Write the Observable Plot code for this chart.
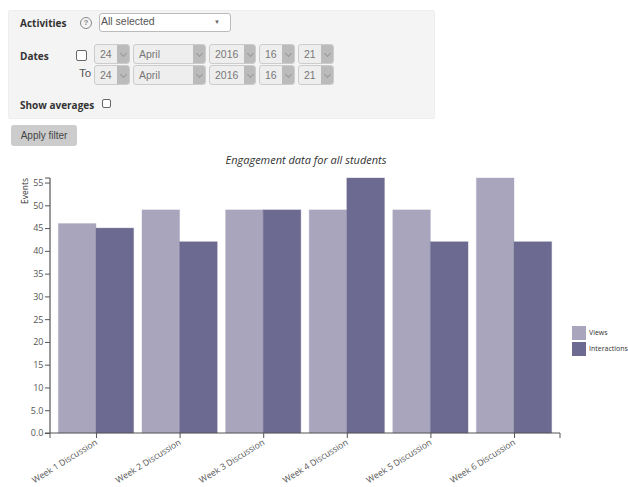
<!DOCTYPE html>
<html><head><meta charset="utf-8">
<script src="https://cdn.jsdelivr.net/npm/d3@7"></script>
<script src="https://cdn.jsdelivr.net/npm/@observablehq/plot@0.6"></script>
<style>
html,body{margin:0;padding:0;background:#fff;width:628px;height:487px;overflow:hidden;position:relative;font-family:"Liberation Sans",sans-serif;color:#555}
.a{position:absolute;box-sizing:border-box}
.lab{font:bold 10px "Open Sans",sans-serif;color:#333;line-height:14px}
.chk{border:1px solid #666;background:#fff;border-radius:2px;width:11px;height:11px}
.sel{background:#eee;border:1px solid #ccc;border-radius:3px;height:20px;font-size:10.5px;line-height:18px;color:#777;padding-left:5px}
.sel i{position:absolute;right:0;top:0;bottom:0;background:#bbb;border-radius:0 2px 2px 0}
.sel i::after{content:"";position:absolute;left:3.5px;top:6px;width:4px;height:4px;border-right:1px solid #999;border-bottom:1px solid #999;transform:rotate(45deg)}
#chart{position:absolute;left:0;top:150px}
#chart text{fill:#555}
.leg{position:absolute;font:7px "Open Sans",sans-serif;color:#333;line-height:14px}
</style></head><body>
<div class="a" style="left:8px;top:10px;width:427px;height:109px;background:#f4f4f4;border:1px solid #eee;border-radius:2px"></div>
<div class="a lab" style="left:20px;top:16px">Activities</div>
<div class="a" style="left:80px;top:17px;width:12px;height:12px;border:1px solid #888;border-radius:50%;font:bold 8px/10px 'Liberation Sans';text-align:center;color:#888">?</div>
<div class="a" style="left:99px;top:13px;width:132px;height:19px;background:#fff;border:1px solid #bbb;border-radius:3px;font-size:10.5px;line-height:14px;padding-left:1px;color:#555">All selected<span class="a" style="right:10px;top:1px;font-size:6px;color:#666">▼</span></div>
<div class="a lab" style="left:20px;top:49px">Dates</div>
<div class="a chk" style="left:76px;top:50px"></div>
<div class="a" style="left:79px;top:66px;font-size:11.5px;line-height:14px;color:#555">To</div>
<div id="rows"></div>
<div class="a lab" style="left:20px;top:98px">Show averages</div>
<div class="a chk" style="left:102px;top:99px;width:9px;height:9px"></div>
<div class="a" style="left:11px;top:125px;width:66px;height:21px;background:#ccc;border-radius:3px;font-size:10px;line-height:21px;text-align:center;color:#444">Apply filter</div>
<div class="a" style="left:0;width:612px;top:153px;text-align:center;font:italic 11px/14px 'Open Sans',sans-serif;color:#333">Engagement data for all students</div>
<div class="a" style="left:25px;top:177px;font:8.5px/10px 'Open Sans',sans-serif;color:#333;transform-origin:0 0;transform:translate(-5px,27px) rotate(-90deg)">Events</div>
<div id="chart"></div>
<div id="legend"></div>
<script>
const weeks = ["Week 1 Discussion","Week 2 Discussion","Week 3 Discussion","Week 4 Discussion","Week 5 Discussion","Week 6 Discussion"];
const seriesNames = ["Views","Interactions"];
const views = [46,49,49,49,49,56];
const interactions = [45,42,49,56,42,42];
const seriesColors = ["#a8a5bd","#6c6a90"];
const yTicks = [0,5,10,15,20,25,30,35,40,45,50,55];
const yTickLabels = ["0.0","5.0","10","15","20","25","30","35","40","45","50","55"];
const dateFields = ["24","April","2016","16","21"];

const rows = [];
weeks.forEach((w,i)=>{rows.push({week:w,series:seriesNames[0],value:views[i]});rows.push({week:w,series:seriesNames[1],value:interactions[i]});});

// date widgets
const fieldBoxes=[[94,36,12],[133,73,12],[209,47,11],[259,36,12],[298,36,12]];
const rowsEl=document.getElementById("rows");
[44,65].forEach(top=>{
  dateFields.forEach((t,i)=>{
    const [l,w,a]=fieldBoxes[i];
    const d=document.createElement("div");
    d.className="a sel";
    d.style.cssText=`left:${l}px;top:${top}px;width:${w}px`;
    d.innerHTML=`${t}<i style="width:${a}px"></i>`;
    rowsEl.appendChild(d);
  });
});

// legend
seriesNames.forEach((s,i)=>{
  const top=326+i*16;
  const sw=document.createElement("div");
  sw.className="a";
  sw.style.cssText=`left:572px;top:${top}px;width:14px;height:14px;background:${seriesColors[i]}`;
  document.body.appendChild(sw);
  const t=document.createElement("div");
  t.className="leg";
  t.style.cssText=`left:589px;top:${top}px`;
  t.textContent=s;
  document.body.appendChild(t);
});

// whole-frame axis lines, drawn once across all facets
const axisLines=(index,scales,values,dim,context,next)=>{
  const {marginLeft,marginTop:t,marginBottom:b,marginRight,width:w,height:h}=dim;
  // the super facet's box starts at the first band: step back over the outer padding
  const pad=(w-marginRight-marginLeft)/(weeks.length-0.1)*0.1;
  const l=marginLeft-pad, right=w-marginRight+pad;
  const g=d3.create("svg:g");
  g.append("path").attr("fill","none").attr("stroke","#999").attr("stroke-width",2).attr("d",`M${l},${t}V${h-b}`);
  g.append("path").attr("fill","none").attr("stroke","#555").attr("d",`M${l-5},${t}H${l}M${l-5},${h-b}H${l}`);
  g.append("path").attr("fill","none").attr("stroke","#555").attr("d",`M${l},${h-b+5}V${h-b}H${right}V${h-b+5}`);
  return g.node();
};

const chart=Plot.plot({
  width:628,height:337,
  marginTop:28,marginBottom:54,marginLeft:50,marginRight:68,
  style:{fontFamily:"'Open Sans',sans-serif",fontSize:"9px",background:"transparent",overflow:"visible"},
  fx:{domain:weeks,paddingInner:0.1,paddingOuter:0.1,round:false,label:null},
  x:{domain:seriesNames,padding:0,round:false,axis:null},
  y:{domain:[0,56],label:null},
  color:{domain:seriesNames,range:seriesColors},
  marks:[
    Plot.barY(rows,{fx:"week",x:"series",y:"value",fill:"series",stroke:"series",strokeOpacity:0.35}),
    Plot.frame({anchor:"bottom",facet:"super",stroke:"#555",render:axisLines}),
    Plot.axisY({ticks:yTicks,tickFormat:d=>yTickLabels[yTicks.indexOf(d)],tickSize:5,tickPadding:2,dx:-8.4,stroke:"#555",fontSize:9,label:null}),
    Plot.axisFx({anchor:"bottom",tickRotate:-32,tickSize:5,tickPadding:3,stroke:"#555",fontSize:8.7,label:null})
  ]
});
document.getElementById("chart").appendChild(chart);
</script>
</body></html>
